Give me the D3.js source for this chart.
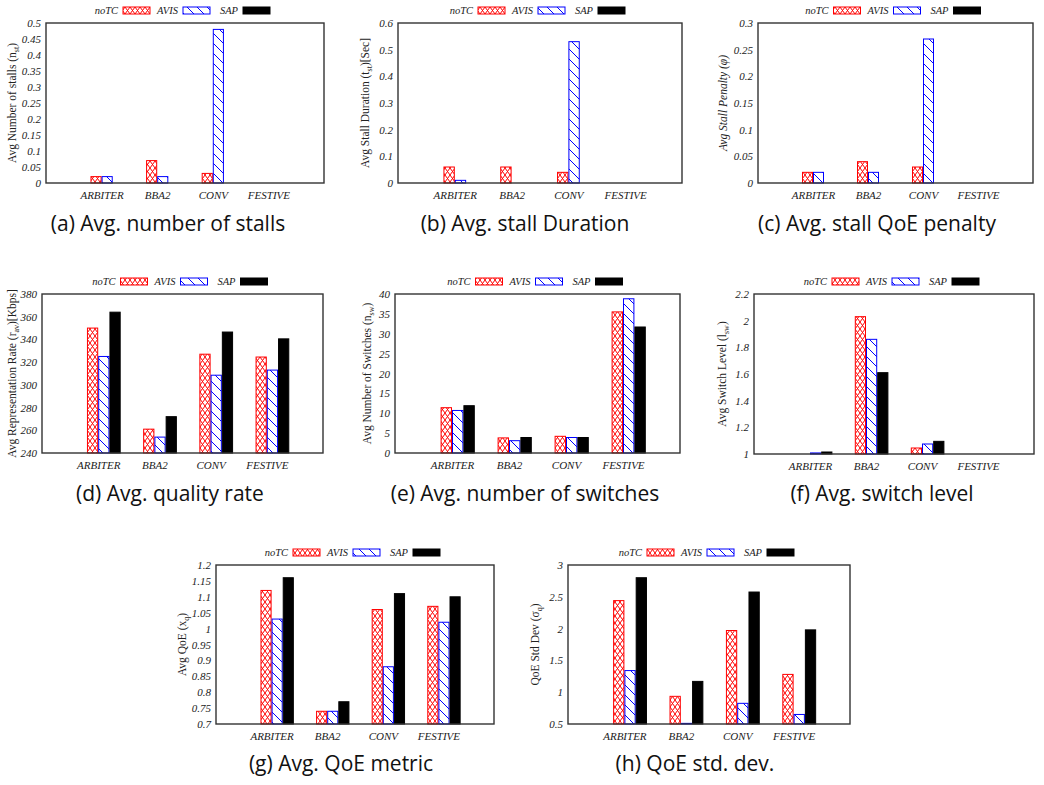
<!DOCTYPE html>
<html lang="en">
<head>
<meta charset="UTF-8">
<title>QoE comparison</title>
<script src="https://d3js.org/d3.v7.min.js"></script>
<style>
  body { margin: 0; background: #fff; }
  svg { display: block; }
  .tick text { font-family: "Liberation Serif", serif; font-style: italic; font-size: 11px; fill: #222; }
  .ylab { font-family: "Liberation Serif", serif; font-size: 11.5px; fill: #222; }
  .leg { font-family: "Liberation Serif", serif; font-style: italic; font-size: 10.5px; fill: #222; }
  .cap { font-family: "Open Sans", sans-serif; font-size: 21px; fill: #111; }
</style>
</head>
<body>
<svg id="chart" width="1044" height="785"></svg>
<script>
// categories and legend
var categories = ["ARBITER", "BBA2", "CONV", "FESTIVE"];
var legendNames = ["noTC", "AVIS", "SAP"];

// each panel: [red series, blue series, black series], one value per category
var nStalls     = [[0.02, 0.07, 0.03, 0], [0.02, 0.02, 0.48, 0], [0, 0, 0, 0]];
var stallDur    = [[0.06, 0.06, 0.04, 0], [0.01, 0, 0.53, 0], [0, 0, 0, 0]];
var stallPen    = [[0.02, 0.04, 0.03, 0], [0.02, 0.02, 0.27, 0], [0, 0, 0, 0]];
var qualityRate = [[350, 261, 327, 324.5], [325, 254, 308.5, 313], [364, 272, 346.5, 340.5]];
var nSwitches   = [[11.4, 3.8, 4.2, 35.5], [10.7, 3.1, 3.9, 38.8], [11.9, 3.9, 3.9, 31.7]];
var switchLevel = [[1, 2.03, 1.045, 1], [1.008, 1.86, 1.075, 1], [1.015, 1.61, 1.095, 1]];
var qoeAvg      = [[1.12, 0.74, 1.06, 1.07], [1.03, 0.74, 0.88, 1.02], [1.16, 0.77, 1.11, 1.10]];
var qoeStd      = [[2.44, 0.935, 1.97, 1.28], [1.34, 0.51, 0.825, 0.65], [2.8, 1.17, 2.575, 1.98]];

// y tick labels
var ticksA = ["0", "0.05", "0.1", "0.15", "0.2", "0.25", "0.3", "0.35", "0.4", "0.45", "0.5"];
var ticksB = ["0", "0.1", "0.2", "0.3", "0.4", "0.5", "0.6"];
var ticksC = ["0", "0.05", "0.1", "0.15", "0.2", "0.25", "0.3"];
var ticksD = ["240", "260", "280", "300", "320", "340", "360", "380"];
var ticksE = ["0", "5", "10", "15", "20", "25", "30", "35", "40"];
var ticksF = ["1", "1.2", "1.4", "1.6", "1.8", "2", "2.2"];
var ticksG = ["0.7", "0.75", "0.8", "0.85", "0.9", "0.95", "1", "1.05", "1.1", "1.15", "1.2"];
var ticksH = ["0.5", "1", "1.5", "2", "2.5", "3"];

var panels = [
  {data: nStalls, ticks: ticksA, box: [46, 23, 324, 183], ylx: 12, capX: 168, capY: 231,
   ylab: ["Avg Number of stalls (n", "st", ")"], cap: "(a) Avg. number of stalls"},
  {data: stallDur, ticks: ticksB, box: [398, 23, 682, 183], ylx: 365, capX: 525, capY: 231,
   ylab: ["Avg Stall Duration (t", "st", ")[Sec]"], cap: "(b) Avg. stall Duration"},
  {data: stallPen, ticks: ticksC, box: [758, 23, 1033, 183], ylx: 723, capX: 877, capY: 231,
   ylab: ["Avg Stall Penalty (\u03c6)", "", ""], italic: true, cap: "(c) Avg. stall QoE penalty"},
  {data: qualityRate, ticks: ticksD, box: [42, 294, 323, 453], ylx: 12, capX: 170, capY: 501,
   ylab: ["Avg Representation Rate (r", "av", ")[Kbps]"], cap: "(d) Avg. quality rate"},
  {data: nSwitches, ticks: ticksE, box: [395, 294, 680, 453], ylx: 367, capX: 525, capY: 501,
   ylab: ["Avg Number of Switches (n", "sw", ")"], cap: "(e) Avg. number of switches"},
  {data: switchLevel, ticks: ticksF, box: [754, 294, 1034, 454], ylx: 722, capX: 882, capY: 501,
   ylab: ["Avg Switch Level (l", "sw", ")"], cap: "(f) Avg. switch level"},
  {data: qoeAvg, ticks: ticksG, box: [216, 565, 494, 724], ylx: 182, capX: 341, capY: 771,
   ylab: ["Avg QoE (x", "q", ")"], cap: "(g) Avg. QoE metric"},
  {data: qoeStd, ticks: ticksH, box: [568, 565, 850, 724], ylx: 535, capX: 695, capY: 771,
   ylab: ["QoE Std Dev (\u03c3", "q", ")"], cap: "(h) QoE std. dev."}
];

var svg = d3.select("#chart");
var defs = svg.append("defs");

// red cross hatch
var pr = defs.append("pattern").attr("id", "cross").attr("patternUnits", "userSpaceOnUse")
  .attr("width", 5).attr("height", 7);
pr.append("rect").attr("width", 5).attr("height", 7).attr("fill", "#fff");
pr.append("path").attr("d", "M0,0 L5,7 M5,0 L0,7").attr("stroke", "#f00").attr("stroke-width", 1);

// blue diagonal hatch
var pb = defs.append("pattern").attr("id", "diag").attr("patternUnits", "userSpaceOnUse")
  .attr("width", 10).attr("height", 10);
pb.append("rect").attr("width", 10).attr("height", 10).attr("fill", "#fff");
pb.append("path").attr("d", "M-1,-1 L11,11 M-1,9 L1,11 M9,-1 L11,1").attr("stroke", "#00f").attr("stroke-width", 1);

var fills = ["url(#cross)", "url(#diag)", "#000"];
var strokes = ["#f00", "#00f", "#000"];

panels.forEach(function(p) {
  var L = p.box[0], T = p.box[1], R = p.box[2], B = p.box[3];
  var tv = p.ticks.map(Number);
  var y = d3.scaleLinear().domain([tv[0], tv[tv.length - 1]]).range([B, T]);
  var x = d3.scaleLinear().domain([0, 5]).range([L, R]);
  var g = svg.append("g");

  // bars (first slot of each group stays empty)
  p.data.forEach(function(series, s) {
    var pts = series.map(function(v, i) { return {v: v, i: i}; })
      .filter(function(d) { return d.v > tv[0]; });
    g.selectAll(null).data(pts).enter()
      .append("rect")
      .attr("x", function(d) { return x(d.i + 1 - 0.4 + (s + 1) * 0.2) + 0.5; })
      .attr("width", x(0.2) - x(0) - 1)
      .attr("y", function(d) { return y(d.v); })
      .attr("height", function(d) { return y(tv[0]) - y(d.v); })
      .attr("fill", fills[s])
      .attr("stroke", strokes[s])
      .attr("stroke-width", 1);
  });

  // frame
  g.append("rect").attr("x", L).attr("y", T).attr("width", R - L).attr("height", B - T)
    .attr("fill", "none").attr("stroke", "#333").attr("stroke-width", 1.4);

  // y axis
  var ya = g.append("g").attr("transform", "translate(" + L + ",0)")
    .call(d3.axisLeft(y).tickValues(tv).tickSize(0).tickPadding(5)
      .tickFormat(function(d, i) { return p.ticks[i]; }));
  ya.select(".domain").remove();

  // x axis
  var xa = g.append("g").attr("transform", "translate(0," + B + ")")
    .call(d3.axisBottom(x).tickValues([1, 2, 3, 4]).tickSize(0).tickPadding(8)
      .tickFormat(function(d) { return categories[d - 1]; }));
  xa.select(".domain").remove();

  // y label
  var yl = g.append("text").attr("class", "ylab")
    .attr("transform", "translate(" + (p.ylx + 4) + "," + ((T + B) / 2) + ") rotate(-90)")
    .attr("text-anchor", "middle");
  if (p.italic) yl.style("font-style", "italic");
  yl.append("tspan").text(p.ylab[0]);
  if (p.ylab[1]) {
    yl.append("tspan").attr("dy", 3).style("font-size", "8px").text(p.ylab[1]);
    yl.append("tspan").attr("dy", -3).text(p.ylab[2]);
  }

  // legend
  var cx = (L + R) / 2;
  legendNames.forEach(function(name, i) {
    var sx = cx - 62 + i * 60;
    g.append("text").attr("class", "leg").attr("x", sx - 5).attr("y", T - 9)
      .attr("text-anchor", "end").text(name);
    g.append("rect").attr("x", sx).attr("y", T - 16).attr("width", 27).attr("height", 7)
      .attr("fill", fills[i]).attr("stroke", strokes[i]).attr("stroke-width", 1);
  });

  // caption
  svg.append("text").attr("class", "cap").attr("x", p.capX).attr("y", p.capY)
    .attr("text-anchor", "middle").text(p.cap);
});
</script>
</body>
</html>
